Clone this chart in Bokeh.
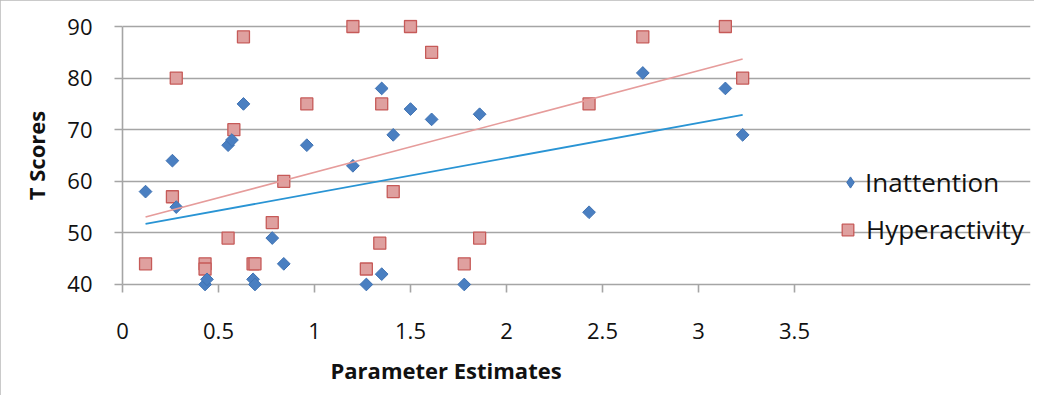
import numpy as np
from bokeh.plotting import figure
from bokeh.models import Range1d, Legend, LegendItem, FixedTicker, Title
from bokeh.embed import file_html
from bokeh.resources import INLINE

# ---- data ----
inatt_x = [0.12, 0.26, 0.28, 0.43, 0.44, 0.55, 0.57, 0.63, 0.68, 0.69, 0.78, 0.84, 0.96,
           1.20, 1.27, 1.35, 1.35, 1.41, 1.50, 1.61, 1.86, 1.78, 2.43, 2.71, 3.14, 3.23]
inatt_y = [58, 64, 55, 40, 41, 67, 68, 75, 41, 40, 49, 44, 67,
           63, 40, 78, 42, 69, 74, 72, 73, 40, 54, 81, 78, 69]
hyper_x = [0.12, 0.28, 0.26, 0.43, 0.43, 0.55, 0.58, 0.63, 0.68, 0.69, 0.78, 0.84, 0.96,
           1.20, 1.27, 1.35, 1.34, 1.41, 1.50, 1.61, 1.78, 1.86, 2.43, 2.71, 3.14, 3.23]
hyper_y = [44, 80, 57, 44, 43, 49, 70, 88, 44, 44, 52, 60, 75,
           90, 43, 75, 48, 58, 90, 85, 44, 49, 75, 88, 90, 80]
x_ticks = [0, 0.5, 1, 1.5, 2, 2.5, 3, 3.5]
y_ticks = [40, 50, 60, 70, 80, 90]
series_names = ["Inattention", "Hyperactivity"]
x_title = "Parameter Estimates"
y_title = "T Scores"

FONT = "Open Sans"
GRID = "#a5a5a5"
BLUE_FILL, BLUE_LINE = "#4a7fc1", "#3f72b3"
RED_FILL, RED_LINE = "#dfa09f", "#c65a58"

# plot area: x 0..3.5 spans 672px; the frame continues to the right to host the legend
FRAME_LEFT, FRAME_RIGHT = 122, 1030
x_end = 3.5 * (FRAME_RIGHT - FRAME_LEFT) / 672.0

p = figure(width=1034, height=395, output_backend="svg", toolbar_location=None,
           x_range=Range1d(0, x_end), y_range=Range1d(38.64, 91.36),
           min_border_left=FRAME_LEFT, min_border_right=1034 - FRAME_RIGHT,
           min_border_top=19, min_border_bottom=104,
           background_fill_color="white", border_fill_color="white")
p.outline_line_color = None
p.styles = {"outline": "3px solid #b9b9b9", "outline-offset": "-3px"}

# grid
p.xgrid.grid_line_color = None
p.ygrid.ticker = FixedTicker(ticks=y_ticks)
p.ygrid.grid_line_color = GRID
p.ygrid.grid_line_width = 1.6
p.ygrid.bounds = (0, 3.5)

# axes
for ax in (p.xaxis[0], p.yaxis[0]):
    ax.axis_line_color = GRID
    ax.axis_line_width = 1.6
    ax.major_tick_line_color = GRID
    ax.major_tick_line_width = 1.6
    ax.minor_tick_line_color = None
    ax.major_label_text_font = FONT
    ax.major_label_text_font_size = "22px"
    ax.major_label_text_color = "#111111"
    ax.axis_label_text_font = FONT
    ax.axis_label_text_font_size = "22px"
    ax.axis_label_text_font_style = "bold"
    ax.axis_label_text_color = "#111111"

# x axis sits at the frame bottom (7px under the 40 gridline); ticks span 40-line .. 8px below it
p.xaxis.ticker = FixedTicker(ticks=x_ticks)
p.xaxis.bounds = (0, 3.5)
p.xaxis.major_label_overrides = {0: "0", 1: "1", 2: "2", 3: "3"}
p.xaxis.axis_line_color = None
p.xaxis.major_tick_in = 7
p.xaxis.major_tick_out = 1
p.xaxis.major_label_standoff = 30

# x title placed under the 0..3.5 span (not the whole frame)
p.add_layout(Title(text=x_title, align="left", offset=208, standoff=22,
                   text_font=FONT, text_font_size="22px", text_font_style="bold",
                   text_color="#111111"), "below")

p.yaxis.ticker = FixedTicker(ticks=y_ticks)
p.yaxis.bounds = (40, 90)
p.yaxis.major_tick_in = 0
p.yaxis.major_tick_out = 8
p.yaxis.major_label_standoff = 22
p.yaxis.axis_label = y_title
p.yaxis.axis_label_standoff = 13

# markers
r_h = p.scatter(hyper_x, hyper_y, marker="square", size=12,
                fill_color=RED_FILL, line_color=RED_LINE, line_width=1.3)
r_i = p.scatter(inatt_x, inatt_y, marker="square", angle=np.pi / 4, size=9,
                fill_color=BLUE_FILL, line_color=BLUE_LINE, line_width=1)
# legend-only glyph for the diamond (legends ignore marker angle); NaN point is never drawn
r_i_leg = p.scatter(x=[float("nan")], y=[float("nan")], marker="diamond", size=9,
                    fill_color=BLUE_FILL, line_color=BLUE_LINE, line_width=1)

# linear trendlines computed from each series
def trend(xs, ys):
    m, b = np.polyfit(xs, ys, 1)
    x0, x1 = min(xs), max(xs)
    return [x0, x1], [m * x0 + b, m * x1 + b]

tx, ty = trend(inatt_x, inatt_y)
p.line(tx, ty, line_color="#2994d4", line_width=1.8)
tx, ty = trend(hyper_x, hyper_y)
p.line(tx, ty, line_color="#e69c9b", line_width=1.6)

# legends (one per item for exact placement), inside the extended frame
leg1 = Legend(items=[LegendItem(label=series_names[0], renderers=[r_i_leg])],
              location=(714, 91), glyph_width=28, glyph_height=28, label_standoff=1)
leg2 = Legend(items=[LegendItem(label=series_names[1], renderers=[r_h])],
              location=(711, 44), glyph_width=29, glyph_height=29, label_standoff=4)
for lg in (leg1, leg2):
    lg.padding = 0
    lg.margin = 0
    lg.border_line_color = None
    lg.background_fill_alpha = 0
    lg.label_text_font = FONT
    lg.label_text_font_size = "26px"
    lg.label_text_color = "#111111"
    p.add_layout(lg, "center")

open("out.html", "w").write(file_html(p, INLINE))
